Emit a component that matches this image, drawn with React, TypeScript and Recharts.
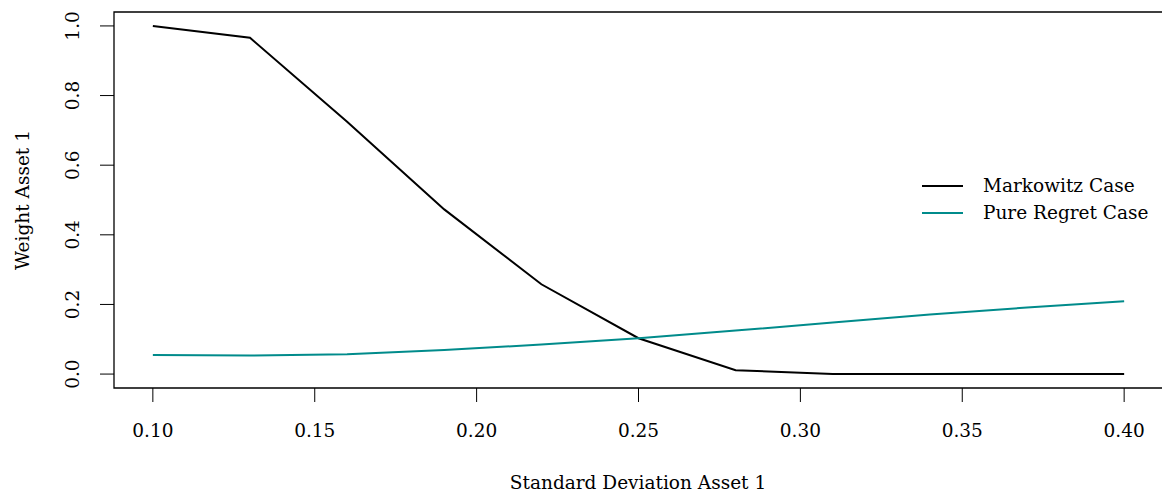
import React from 'react';
import {
  LineChart,
  Line,
  XAxis,
  YAxis,
  ReferenceArea,
  Label
} from 'recharts';

// values
const stdDev = [0.10, 0.13, 0.16, 0.19, 0.22, 0.25, 0.28, 0.31, 0.34, 0.37, 0.40];
const markowitz = [1.0, 0.966, 0.725, 0.473, 0.258, 0.103, 0.011, 0.0, 0.0, 0.0, 0.0];
const pureRegret = [0.055, 0.053, 0.057, 0.069, 0.085, 0.103, 0.125, 0.148, 0.171, 0.191, 0.209];
const xTicks = [0.10, 0.15, 0.20, 0.25, 0.30, 0.35, 0.40];
const yTicks = [0.0, 0.2, 0.4, 0.6, 0.8, 1.0];

const FONT = '"DejaVu Serif", serif';
const FS = 18.5;
const TEAL = '#008b8b';

const data = stdDev.map((sd, i) => ({
  sd,
  markowitz: markowitz[i],
  regret: pureRegret[i]
}));

const XTick = (props: any) => {
  const { x, payload } = props;
  return (
    <text x={x} y={437} textAnchor="middle" fontFamily={FONT} fontSize={FS} fill="#000">
      {Number(payload.value).toFixed(2)}
    </text>
  );
};

const YTick = (props: any) => {
  const { y, payload } = props;
  const tx = 79;
  return (
    <text
      x={tx}
      y={y}
      transform={`rotate(-90 ${tx} ${y})`}
      textAnchor="middle"
      fontFamily={FONT}
      fontSize={FS}
      fill="#000"
    >
      {Number(payload.value).toFixed(1)}
    </text>
  );
};

const YTitle = () => (
  <text
    x={29}
    y={200}
    transform="rotate(-90 29 200)"
    textAnchor="middle"
    fontFamily={FONT}
    fontSize={FS}
    fill="#000"
  >
    Weight Asset 1
  </text>
);

const App = () => {
  return (
    <div style={{ position: 'absolute', left: 0, top: 0, width: 1162, height: 496, background: '#fff', overflow: 'hidden' }}>
      <LineChart
        width={1162}
        height={496}
        data={data}
        margin={{ top: 12, right: -1, left: 0, bottom: 0 }}
      >
        <XAxis
          dataKey="sd"
          type="number"
          domain={[0.088, 0.412]}
          ticks={xTicks}
          allowDataOverflow
          axisLine={false}
          tickSize={14}
          tickLine={{ stroke: '#000', strokeWidth: 1 }}
          tick={<XTick />}
          height={108}
        >
          <Label
            content={() => (
              <text x={638} y={489} textAnchor="middle" fontFamily={FONT} fontSize={FS} fill="#000">
                Standard Deviation Asset 1
              </text>
            )}
          />
        </XAxis>
        <YAxis
          type="number"
          domain={[-0.04, 1.04]}
          ticks={yTicks}
          allowDataOverflow
          axisLine={false}
          tickSize={14}
          tickLine={{ stroke: '#000', strokeWidth: 1 }}
          tick={<YTick />}
          width={114}
        >
          <Label content={() => <YTitle />} />
        </YAxis>
        <ReferenceArea
          x1={0.088}
          x2={0.412}
          y1={-0.04}
          y2={1.04}
          fill="none"
          fillOpacity={0}
          stroke="#000"
          strokeWidth={1.3}
          strokeOpacity={1}
          ifOverflow="visible"
        />
        <Line
          type="linear"
          dataKey="markowitz"
          stroke="#000"
          strokeWidth={2}
          dot={false}
          isAnimationActive={false}
        />
        <Line
          type="linear"
          dataKey="regret"
          stroke={TEAL}
          strokeWidth={2}
          dot={false}
          isAnimationActive={false}
        />
      </LineChart>
      <svg
        width={260}
        height={70}
        style={{ position: 'absolute', left: 910, top: 168 }}
      >
        <line x1={12} x2={53} y1={18} y2={18} stroke="#000" strokeWidth={2} />
        <text x={73} y={24} fontFamily={FONT} fontSize={FS} fill="#000">Markowitz Case</text>
        <line x1={12} x2={53} y1={45} y2={45} stroke={TEAL} strokeWidth={2} />
        <text x={73} y={51} fontFamily={FONT} fontSize={FS} fill="#000">Pure Regret Case</text>
      </svg>
    </div>
  );
};

export default App;
